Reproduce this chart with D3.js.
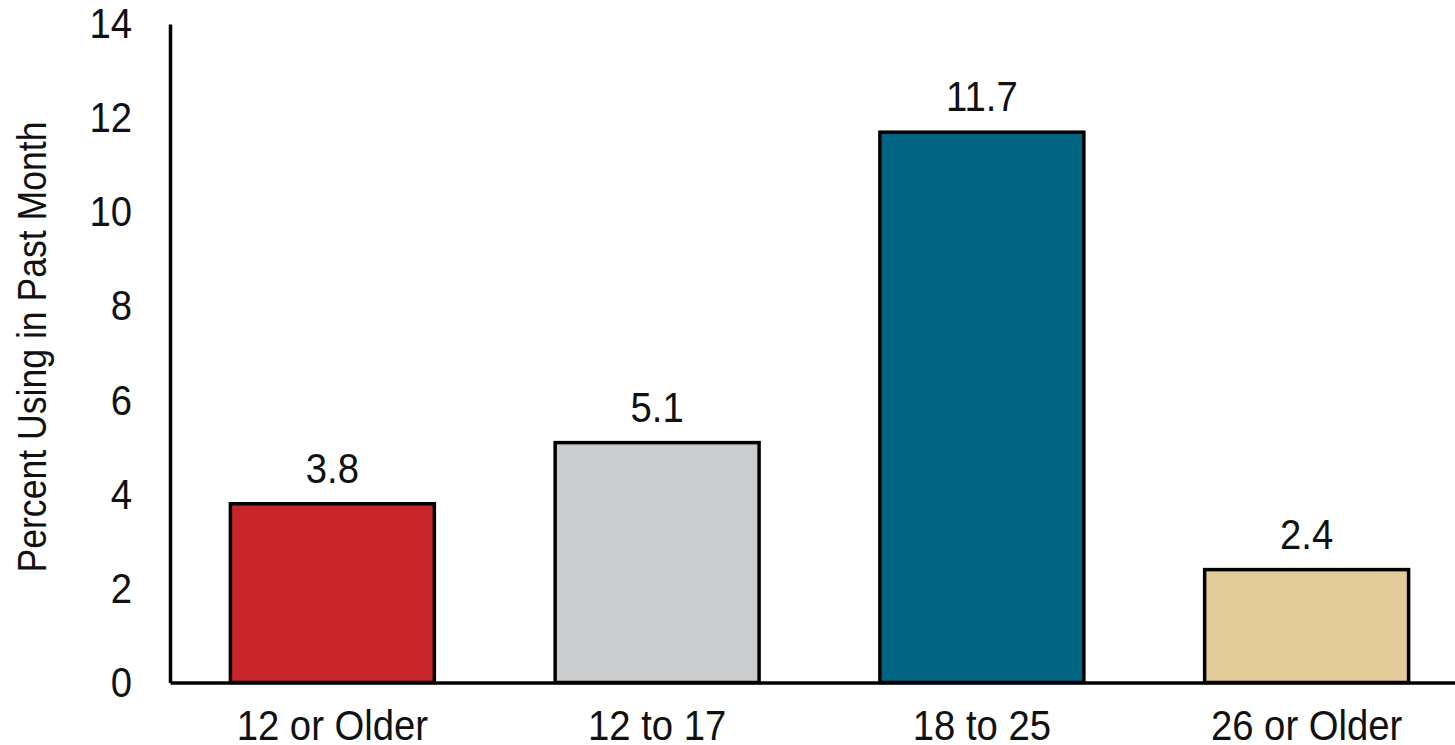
<!DOCTYPE html>
<html>
<head>
<meta charset="utf-8">
<script src="https://cdn.jsdelivr.net/npm/d3@7"></script>
<style>
  html, body { margin: 0; padding: 0; background: #fff; }
  svg { display: block; }
  text { font-family: "Liberation Sans", Arial, sans-serif; fill: #111; }
</style>
</head>
<body>
<script>
// values
const categories = ["12 or Older", "12 to 17", "18 to 25", "26 or Older"];
const percents = [3.8, 5.1, 11.7, 2.4];
const barColors = ["#c8252a", "#cbcccd", "#006482", "#e3cc9a"];
const yTicks = [0, 2, 4, 6, 8, 10, 12, 14];
const yTitle = "Percent Using in Past Month";

const width = 1455;
const height = 745;
const squeeze = 0.89; // the source font is a bit condensed

const x = d3.scaleBand()
  .domain(categories)
  .range([170, 1469])
  .paddingInner(0.372)
  .paddingOuter(0.186);

const y = d3.scaleLinear()
  .domain([0, 14])
  .range([682.5, 24]);

const svg = d3.create("svg")
  .attr("width", width)
  .attr("height", height);

// bars
svg.append("g")
  .selectAll("rect")
  .data(categories)
  .join("rect")
  .attr("x", d => x(d))
  .attr("y", (d, i) => y(percents[i]))
  .attr("width", x.bandwidth())
  .attr("height", (d, i) => y(0) - y(percents[i]))
  .attr("fill", (d, i) => barColors[i])
  .attr("stroke", "#000")
  .attr("stroke-width", 3.5);

// value labels
svg.append("g")
  .selectAll("text")
  .data(categories)
  .join("text")
  .attr("transform", (d, i) =>
    `translate(${x(d) + x.bandwidth() / 2},${y(percents[i]) - 21}) scale(${squeeze},1)`)
  .attr("text-anchor", "middle")
  .attr("font-size", 43)
  .text((d, i) => percents[i].toFixed(1));

// y axis
const gy = svg.append("g")
  .attr("transform", "translate(170,0)")
  .call(d3.axisLeft(y).tickValues(yTicks).tickSize(0).tickPadding(0));
gy.select(".domain").attr("stroke", "#000").attr("stroke-width", 3.5);
gy.selectAll("text")
  .attr("font-size", 43)
  .attr("font-family", null)
  .attr("x", -38 / squeeze)
  .attr("transform", `scale(${squeeze},1)`);

// x axis
const gx = svg.append("g")
  .attr("transform", `translate(0,${y(0)})`)
  .call(d3.axisBottom(x).tickSize(0).tickPadding(27));
gx.select(".domain").attr("stroke", "#000").attr("stroke-width", 3.5);
gx.selectAll("text")
  .attr("font-size", 43)
  .attr("font-family", null)
  .attr("transform", `scale(${squeeze},1)`);

// y axis title
svg.append("text")
  .attr("transform", `translate(46,347) rotate(-90) scale(${squeeze},1)`)
  .attr("text-anchor", "middle")
  .attr("font-size", 40)
  .text(yTitle);

document.body.appendChild(svg.node());
</script>
</body>
</html>
